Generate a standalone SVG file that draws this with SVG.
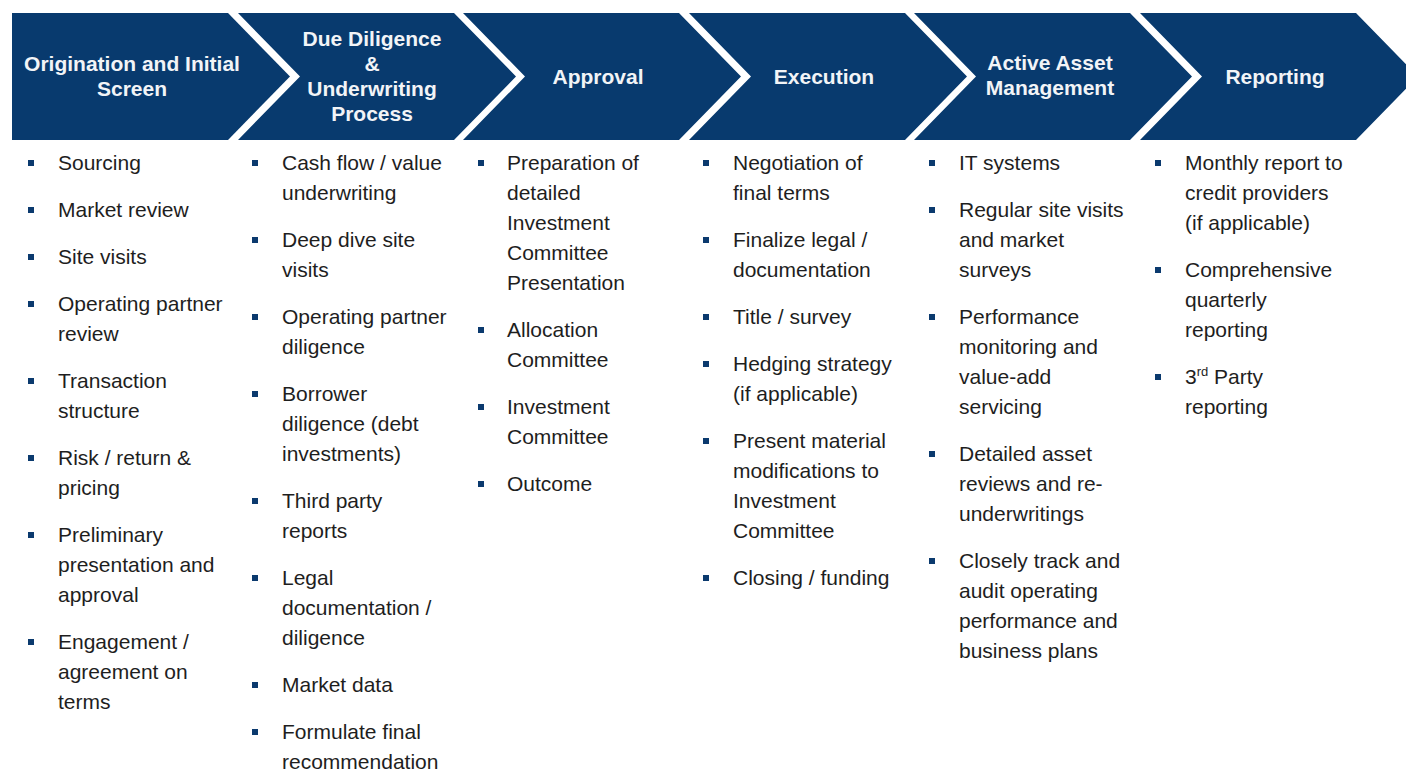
<svg xmlns="http://www.w3.org/2000/svg" width="1406" height="771" viewBox="0 0 1406 771">
<style>
.chev{fill:#083a6e}
.hd{font-family:"Liberation Sans",Arial,sans-serif;font-weight:bold;font-size:21px;fill:#f2f4f7;text-anchor:middle}
.bt{font-family:"Liberation Sans",Arial,sans-serif;font-size:21px;fill:#1e1e1e}
.bl{fill:#0b3a6e}
</style>
<rect width="1406" height="771" fill="#ffffff"/>
<g id="stage1">
<polygon class="chev" points="12,13 228,13 290,76.5 228,140 12,140"/>
<text class="hd" x="132" y="71">Origination and Initial</text>
<text class="hd" x="132" y="96">Screen</text>
<g class="bt">
<rect class="bl" x="28" y="160" width="6" height="6"/><text x="58" y="170">Sourcing</text>
<rect class="bl" x="28" y="207" width="6" height="6"/><text x="58" y="217">Market review</text>
<rect class="bl" x="28" y="254" width="6" height="6"/><text x="58" y="264">Site visits</text>
<rect class="bl" x="28" y="301" width="6" height="6"/><text x="58" y="311">Operating partner</text><text x="58" y="341">review</text>
<rect class="bl" x="28" y="378" width="6" height="6"/><text x="58" y="388">Transaction</text><text x="58" y="418">structure</text>
<rect class="bl" x="28" y="455" width="6" height="6"/><text x="58" y="465">Risk / return &amp;</text><text x="58" y="495">pricing</text>
<rect class="bl" x="28" y="532" width="6" height="6"/><text x="58" y="542">Preliminary</text><text x="58" y="572">presentation and</text><text x="58" y="602">approval</text>
<rect class="bl" x="28" y="639" width="6" height="6"/><text x="58" y="649">Engagement /</text><text x="58" y="679">agreement on</text><text x="58" y="709">terms</text>
</g>
</g>
<g id="stage2">
<polygon class="chev" points="238,13 454,13 516,76.5 454,140 238,140 300,76.5"/>
<text class="hd" x="372" y="46">Due Diligence</text>
<text class="hd" x="372" y="71">&amp;</text>
<text class="hd" x="372" y="96">Underwriting</text>
<text class="hd" x="372" y="121">Process</text>
<g class="bt">
<rect class="bl" x="252" y="160" width="6" height="6"/><text x="282" y="170">Cash flow / value</text><text x="282" y="200">underwriting</text>
<rect class="bl" x="252" y="237" width="6" height="6"/><text x="282" y="247">Deep dive site</text><text x="282" y="277">visits</text>
<rect class="bl" x="252" y="314" width="6" height="6"/><text x="282" y="324">Operating partner</text><text x="282" y="354">diligence</text>
<rect class="bl" x="252" y="391" width="6" height="6"/><text x="282" y="401">Borrower</text><text x="282" y="431">diligence (debt</text><text x="282" y="461">investments)</text>
<rect class="bl" x="252" y="498" width="6" height="6"/><text x="282" y="508">Third party</text><text x="282" y="538">reports</text>
<rect class="bl" x="252" y="575" width="6" height="6"/><text x="282" y="585">Legal</text><text x="282" y="615">documentation /</text><text x="282" y="645">diligence</text>
<rect class="bl" x="252" y="682" width="6" height="6"/><text x="282" y="692">Market data</text>
<rect class="bl" x="252" y="729" width="6" height="6"/><text x="282" y="739">Formulate final</text><text x="282" y="769">recommendation</text>
</g>
</g>
<g id="stage3">
<polygon class="chev" points="463,13 679,13 741,76.5 679,140 463,140 525,76.5"/>
<text class="hd" x="598" y="84">Approval</text>
<g class="bt">
<rect class="bl" x="478" y="160" width="6" height="6"/><text x="507" y="170">Preparation of</text><text x="507" y="200">detailed</text><text x="507" y="230">Investment</text><text x="507" y="260">Committee</text><text x="507" y="290">Presentation</text>
<rect class="bl" x="478" y="327" width="6" height="6"/><text x="507" y="337">Allocation</text><text x="507" y="367">Committee</text>
<rect class="bl" x="478" y="404" width="6" height="6"/><text x="507" y="414">Investment</text><text x="507" y="444">Committee</text>
<rect class="bl" x="478" y="481" width="6" height="6"/><text x="507" y="491">Outcome</text>
</g>
</g>
<g id="stage4">
<polygon class="chev" points="689,13 905,13 967,76.5 905,140 689,140 751,76.5"/>
<text class="hd" x="824" y="84">Execution</text>
<g class="bt">
<rect class="bl" x="703" y="160" width="6" height="6"/><text x="733" y="170">Negotiation of</text><text x="733" y="200">final terms</text>
<rect class="bl" x="703" y="237" width="6" height="6"/><text x="733" y="247">Finalize legal /</text><text x="733" y="277">documentation</text>
<rect class="bl" x="703" y="314" width="6" height="6"/><text x="733" y="324">Title / survey</text>
<rect class="bl" x="703" y="361" width="6" height="6"/><text x="733" y="371">Hedging strategy</text><text x="733" y="401">(if applicable)</text>
<rect class="bl" x="703" y="438" width="6" height="6"/><text x="733" y="448">Present material</text><text x="733" y="478">modifications to</text><text x="733" y="508">Investment</text><text x="733" y="538">Committee</text>
<rect class="bl" x="703" y="575" width="6" height="6"/><text x="733" y="585">Closing / funding</text>
</g>
</g>
<g id="stage5">
<polygon class="chev" points="914,13 1130,13 1192,76.5 1130,140 914,140 976,76.5"/>
<text class="hd" x="1050" y="70">Active Asset</text>
<text class="hd" x="1050" y="95">Management</text>
<g class="bt">
<rect class="bl" x="929" y="160" width="6" height="6"/><text x="959" y="170">IT systems</text>
<rect class="bl" x="929" y="207" width="6" height="6"/><text x="959" y="217">Regular site visits</text><text x="959" y="247">and market</text><text x="959" y="277">surveys</text>
<rect class="bl" x="929" y="314" width="6" height="6"/><text x="959" y="324">Performance</text><text x="959" y="354">monitoring and</text><text x="959" y="384">value-add</text><text x="959" y="414">servicing</text>
<rect class="bl" x="929" y="451" width="6" height="6"/><text x="959" y="461">Detailed asset</text><text x="959" y="491">reviews and re-</text><text x="959" y="521">underwritings</text>
<rect class="bl" x="929" y="558" width="6" height="6"/><text x="959" y="568">Closely track and</text><text x="959" y="598">audit operating</text><text x="959" y="628">performance and</text><text x="959" y="658">business plans</text>
</g>
</g>
<g id="stage6">
<polygon class="chev" points="1140,13 1356,13 1418,76.5 1356,140 1140,140 1202,76.5"/>
<text class="hd" x="1275" y="84">Reporting</text>
<g class="bt">
<rect class="bl" x="1155" y="160" width="6" height="6"/><text x="1185" y="170">Monthly report to</text><text x="1185" y="200">credit providers</text><text x="1185" y="230">(if applicable)</text>
<rect class="bl" x="1155" y="267" width="6" height="6"/><text x="1185" y="277">Comprehensive</text><text x="1185" y="307">quarterly</text><text x="1185" y="337">reporting</text>
<rect class="bl" x="1155" y="374" width="6" height="6"/><text x="1185" y="384">3<tspan font-size="13" dy="-8">rd</tspan><tspan dy="8"> Party</tspan></text><text x="1185" y="414">reporting</text>
</g>
</g>
<g id="connectors"></g>
</svg>
